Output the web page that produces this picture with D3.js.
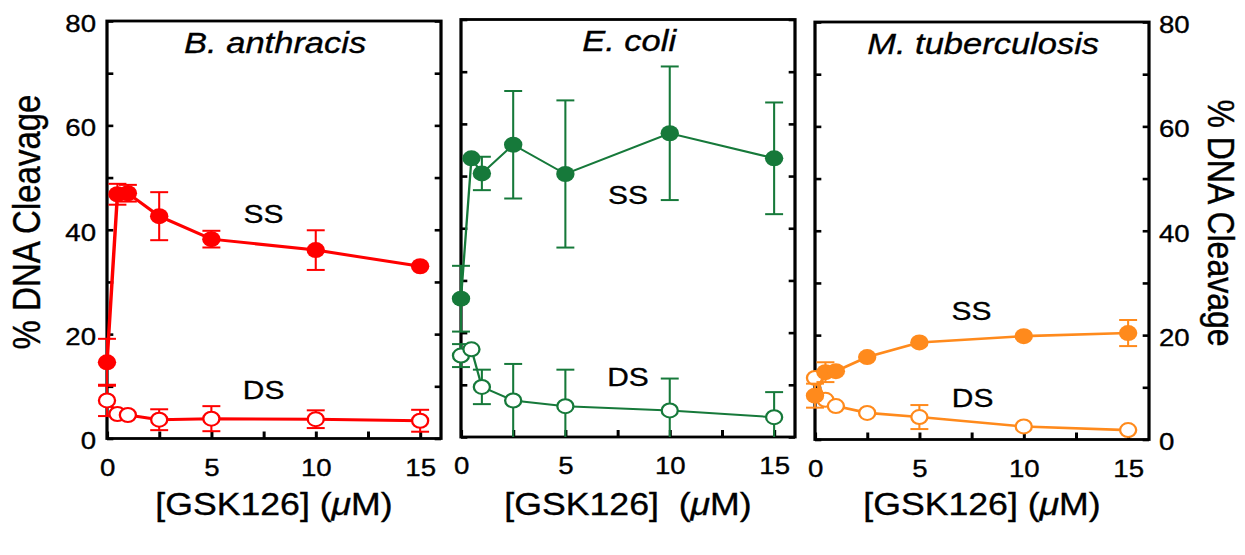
<!DOCTYPE html>
<html>
<head>
<meta charset="utf-8">
<script src="https://cdn.jsdelivr.net/npm/d3@7"></script>
<style>
  body { margin: 0; background: #fff; }
  text { font-family: "Liberation Sans", Arial, Helvetica, sans-serif; fill: #000; stroke: #000; stroke-width: 0.35px; }
</style>
</head>
<body>
<svg id="chart" width="1245" height="555"></svg>
<script>
// --- data ---
const conc = [0, 0.5, 1, 2.5, 5, 10, 15];
const species = ["B. anthracis", "E. coli", "M. tuberculosis"];
const xLabels = ["[GSK126] (", "[GSK126]\u00a0 (", "[GSK126] ("];
const ssMean = [
    [14.6, 46.8, 47.0, 42.6, 38.2, 36.1, 33.0],
    [26.5, 53.4, 50.5, 56.0, 50.4, 58.2, 53.4],
    [8.4, 12.9, 13.1, 15.8, 18.6, 19.8, 20.4]
];
const ssErr = [
    [4.5, 2.0, 1.6, 4.6, 1.6, 3.8, 0],
    [6.3, 0, 3.2, 10.3, 14.1, 12.8, 10.7],
    [2.3, 1.9, 0, 0, 0, 0, 2.5]
];
const dsMean = [
    [7.3, 4.7, 4.5, 3.6, 3.8, 3.7, 3.4],
    [15.6, 16.8, 9.6, 7.0, 5.9, 5.1, 3.8],
    [11.8, 7.6, 6.4, 5.1, 4.3, 2.5, 1.8]
];
const dsErr = [
    [3.0, 0, 0, 2.0, 2.4, 1.7, 2.1],
    [2.2, 0, 3.3, 7.0, 7.0, 6.1, 4.8],
    [0, 0, 0, 0, 2.3, 0, 0]
];
const yTicks = [0, 20, 40, 60, 80];
const xTicks = [0, 5, 10, 15];

// --- layout / style ---
const colors = ["#ff0000", "#16793a", "#ff8a1c"];
const lineWidths = [3, 2, 2.6];
const ssLabelAt = [[7.5, 41.3], [8, 44.6], [7.5, 22.9]];
const dsLabelAt = [[7.5, 7.6], [8, 9.7], [7.55, 6.25]];

const SX = 1.15; // the figure is stretched horizontally
const svg = d3.select("#chart");
const root = svg.append("g").attr("transform", `scale(${SX},1)`);

const panelLeft = [107, 461, 815].map(v => v / SX);
const panelTop = [21, 19.5, 22];
const panelW = 334 / SX, panelH = 417.5;
const R = 8, CAP = 7.8;

species.forEach((name, i) => {
    const g = root.append("g").attr("transform", `translate(${panelLeft[i]},${panelTop[i]})`);
    const x = d3.scaleLinear().domain([0, 16]).range([0, panelW]);
    const y = d3.scaleLinear().domain([0, 80]).range([panelH, 0]);
    const col = colors[i];

    // frame + inward ticks
    g.append("rect").attr("width", panelW).attr("height", panelH)
        .attr("fill", "none").attr("stroke", "#000").attr("stroke-width", 2.8);

    const minorY = d3.range(0, 81, 10);
    const left = g.append("g").call(d3.axisLeft(y).tickValues(minorY).tickSize(-5.5).tickFormat(""));
    const right = g.append("g").attr("transform", `translate(${panelW},0)`)
        .call(d3.axisRight(y).tickValues(minorY).tickSize(-5.5).tickFormat(""));
    const bottom = g.append("g").attr("transform", `translate(0,${panelH})`)
        .call(d3.axisBottom(x).tickValues(d3.range(0, 16, 2.5)).tickSize(-7).tickFormat(""));
    [left, right, bottom].forEach(a => {
        a.select(".domain").remove();
        a.selectAll("line").attr("stroke", "#000").attr("stroke-width", 2.6);
    });

    // tick labels
    const xl = g.append("g").attr("transform", `translate(0,${panelH})`)
        .call(d3.axisBottom(x).tickValues(xTicks).tickSize(0).tickPadding(20));
    xl.select(".domain").remove();
    xl.selectAll("text").attr("font-size", 24).attr("fill", "#000");

    if (i === 0) {
        const yl = g.append("g").call(d3.axisLeft(y).tickValues(yTicks).tickSize(0).tickPadding(11 / SX));
        yl.select(".domain").remove();
        yl.selectAll("text").attr("font-size", 24).attr("dy", "0.43em").attr("fill", "#000");
    }
    if (i === 2) {
        const yr = g.append("g").attr("transform", `translate(${panelW},0)`)
            .call(d3.axisRight(y).tickValues(yTicks).tickSize(0).tickPadding(10 / SX));
        yr.select(".domain").remove();
        yr.selectAll("text").attr("font-size", 24).attr("dy", "0.43em").attr("fill", "#000");
    }

    // titles
    g.append("text").attr("x", panelW / 2 + 1).attr("y", 32)
        .attr("text-anchor", "middle").attr("font-size", 30).attr("font-style", "italic")
        .text(name);

    const xt = g.append("text").attr("x", panelW / 2).attr("y", 515 - panelTop[i])
        .attr("text-anchor", "middle").attr("font-size", 31);
    xt.append("tspan").text(xLabels[i]);
    xt.append("tspan").attr("font-style", "italic").text("\u03bc");
    xt.append("tspan").text("M)");

    // series: DS (open) first, then SS (filled)
    const series = [
        { mean: dsMean[i], err: dsErr[i], filled: false },
        { mean: ssMean[i], err: ssErr[i], filled: true }
    ];
    const line = d3.line().x(d => x(d.c)).y(d => y(d.m));

    series.forEach(s => {
        const pts = conc.map((c, k) => ({ c, m: s.mean[k], e: s.err[k] }));
        const sg = g.append("g");

        // error bars
        pts.filter(d => d.e > 0).forEach(d => {
            const lo = Math.max(0, d.m - d.e), hi = d.m + d.e;
            sg.append("line").attr("x1", x(d.c)).attr("x2", x(d.c))
                .attr("y1", y(lo)).attr("y2", y(hi))
                .attr("stroke", col).attr("stroke-width", 1.8);
            sg.append("line").attr("x1", x(d.c) - CAP).attr("x2", x(d.c) + CAP)
                .attr("y1", y(hi)).attr("y2", y(hi))
                .attr("stroke", col).attr("stroke-width", 2);
            if (d.m - d.e > 0) {
                sg.append("line").attr("x1", x(d.c) - CAP).attr("x2", x(d.c) + CAP)
                    .attr("y1", y(lo)).attr("y2", y(lo))
                    .attr("stroke", col).attr("stroke-width", 2);
            }
        });

        sg.append("path").datum(pts).attr("d", line)
            .attr("fill", "none").attr("stroke", col).attr("stroke-width", lineWidths[i]);

        sg.selectAll("circle").data(pts).enter().append("circle")
            .attr("cx", d => x(d.c)).attr("cy", d => y(d.m))
            .attr("r", s.filled ? R : R - 1)
            .attr("fill", s.filled ? col : "#fff")
            .attr("stroke", col).attr("stroke-width", s.filled ? 0 : 2);
    });

    g.append("text").attr("x", x(ssLabelAt[i][0])).attr("y", y(ssLabelAt[i][1]))
        .attr("text-anchor", "middle").attr("font-size", 26).text("SS");
    g.append("text").attr("x", x(dsLabelAt[i][0])).attr("y", y(dsLabelAt[i][1]))
        .attr("text-anchor", "middle").attr("font-size", 26).text("DS");
});

// y axis titles
root.append("text").attr("transform", `translate(${40 / SX},222) rotate(-90)`)
    .attr("text-anchor", "middle").attr("font-size", 33).text("% DNA Cleavage");
root.append("text").attr("transform", `translate(${1208 / SX},223) rotate(90)`)
    .attr("text-anchor", "middle").attr("font-size", 32).text("% DNA Cleavage");
</script>
</body>
</html>
